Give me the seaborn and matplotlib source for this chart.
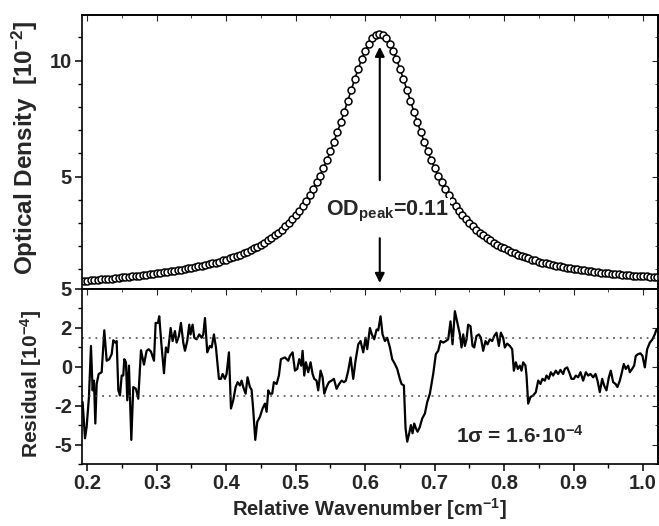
import matplotlib
matplotlib.use("Agg")
import matplotlib.pyplot as plt
import seaborn as sns
from matplotlib.ticker import MultipleLocator, FixedLocator

# ---------------- data ----------------
od_x = [0.190, 0.195, 0.200, 0.205, 0.210, 0.215, 0.220, 0.225, 0.230, 0.235,
        0.240, 0.245, 0.250, 0.255, 0.260, 0.265, 0.270, 0.275, 0.280, 0.285,
        0.290, 0.295, 0.300, 0.305, 0.310, 0.315, 0.320, 0.325, 0.330, 0.335,
        0.340, 0.345, 0.350, 0.355, 0.360, 0.365, 0.370, 0.375, 0.380, 0.385,
        0.390, 0.395, 0.400, 0.405, 0.410, 0.415, 0.420, 0.425, 0.430, 0.435,
        0.440, 0.445, 0.450, 0.455, 0.460, 0.465, 0.470, 0.475, 0.480, 0.485,
        0.490, 0.495, 0.500, 0.505, 0.510, 0.515, 0.520, 0.525, 0.530, 0.535,
        0.540, 0.545, 0.550, 0.555, 0.560, 0.565, 0.570, 0.575, 0.580, 0.585,
        0.590, 0.595, 0.600, 0.605, 0.610, 0.615, 0.620, 0.625, 0.630, 0.635,
        0.640, 0.645, 0.650, 0.655, 0.660, 0.665, 0.670, 0.675, 0.680, 0.685,
        0.690, 0.695, 0.700, 0.705, 0.710, 0.715, 0.720, 0.725, 0.730, 0.735,
        0.740, 0.745, 0.750, 0.755, 0.760, 0.765, 0.770, 0.775, 0.780, 0.785,
        0.790, 0.795, 0.800, 0.805, 0.810, 0.815, 0.820, 0.825, 0.830, 0.835,
        0.840, 0.845, 0.850, 0.855, 0.860, 0.865, 0.870, 0.875, 0.880, 0.885,
        0.890, 0.895, 0.900, 0.905, 0.910, 0.915, 0.920, 0.925, 0.930, 0.935,
        0.940, 0.945, 0.950, 0.955, 0.960, 0.965, 0.970, 0.975, 0.980, 0.985,
        0.990, 0.995, 1.000, 1.005, 1.010, 1.015, 1.020]
od_y = [0.50, 0.51, 0.52, 0.53, 0.55, 0.56, 0.57, 0.58, 0.60, 0.61,
        0.63, 0.64, 0.66, 0.67, 0.69, 0.70, 0.72, 0.74, 0.76, 0.78,
        0.80, 0.82, 0.84, 0.86, 0.88, 0.90, 0.92, 0.94, 0.97, 0.99,
        1.02, 1.05, 1.07, 1.10, 1.13, 1.16, 1.20, 1.23, 1.27, 1.30,
        1.34, 1.39, 1.43, 1.48, 1.53, 1.58, 1.64, 1.70, 1.76, 1.83,
        1.91, 1.98, 2.07, 2.16, 2.26, 2.36, 2.47, 2.59, 2.72, 2.86,
        3.01, 3.17, 3.35, 3.54, 3.74, 3.97, 4.21, 4.47, 4.75, 5.05,
        5.38, 5.73, 6.10, 6.50, 6.92, 7.36, 7.81, 8.28, 8.75, 9.21,
        9.65, 10.07, 10.43, 10.73, 10.96, 11.10, 11.15, 11.10, 10.96, 10.73,
        10.43, 10.07, 9.65, 9.21, 8.75, 8.28, 7.81, 7.36, 6.92, 6.50,
        6.10, 5.73, 5.38, 5.05, 4.75, 4.47, 4.21, 3.97, 3.74, 3.54,
        3.35, 3.17, 3.01, 2.86, 2.72, 2.59, 2.47, 2.36, 2.26, 2.16,
        2.07, 1.98, 1.91, 1.83, 1.76, 1.70, 1.64, 1.58, 1.53, 1.48,
        1.43, 1.39, 1.34, 1.30, 1.27, 1.23, 1.20, 1.16, 1.13, 1.10,
        1.08, 1.05, 1.03, 1.00, 0.98, 0.96, 0.94, 0.92, 0.90, 0.88,
        0.87, 0.85, 0.83, 0.82, 0.80, 0.79, 0.78, 0.76, 0.75, 0.74,
        0.73, 0.72, 0.71, 0.70, 0.69, 0.68, 0.67]

res_x = [0.1933, 0.1967, 0.1991, 0.2024, 0.2053, 0.2077, 0.2096, 0.2116, 0.2135, 0.2164,
         0.2207, 0.2245, 0.2279, 0.2317, 0.2351, 0.2375, 0.2399, 0.2423, 0.2447, 0.2471,
         0.2495, 0.2518, 0.2533, 0.2557, 0.2576, 0.2600, 0.2634, 0.2662, 0.2701, 0.2734,
         0.2773, 0.2816, 0.2854, 0.2883, 0.2917, 0.2960, 0.2984, 0.3017, 0.3036, 0.3065,
         0.3104, 0.3132, 0.3161, 0.3200, 0.3228, 0.3262, 0.3286, 0.3319, 0.3348, 0.3382,
         0.3406, 0.3439, 0.3468, 0.3487, 0.3516, 0.3540, 0.3574, 0.3612, 0.3646, 0.3670,
         0.3694, 0.3727, 0.3765, 0.3790, 0.3823, 0.3852, 0.3895, 0.3924, 0.3948, 0.3981,
         0.4005, 0.4039, 0.4068, 0.4101, 0.4135, 0.4164, 0.4197, 0.4221, 0.4245, 0.4279,
         0.4307, 0.4341, 0.4365, 0.4389, 0.4418, 0.4447, 0.4485, 0.4523, 0.4557, 0.4581,
         0.4605, 0.4629,
         0.4662, 0.4686, 0.4725, 0.4758, 0.4787, 0.4845, 0.4893, 0.4917, 0.4955, 0.4989,
         0.5022, 0.5051, 0.5080, 0.5099, 0.5123, 0.5147, 0.5180, 0.5214, 0.5243, 0.5267,
         0.5300, 0.5324, 0.5358, 0.5387, 0.5411, 0.5444, 0.5478, 0.5516, 0.5550, 0.5588,
         0.5626, 0.5660, 0.5694, 0.5722, 0.5756, 0.5790, 0.5828, 0.5861, 0.5900, 0.5933,
         0.5972, 0.6005, 0.6029, 0.6068, 0.6096, 0.6130, 0.6164, 0.6188, 0.6221, 0.6250,
         0.6284, 0.6317, 0.6356, 0.6389, 0.6428, 0.6461, 0.6499, 0.6523, 0.6557, 0.6581,
         0.6605, 0.6634, 0.6658, 0.6682, 0.6706, 0.6730, 0.6754, 0.6787, 0.6821, 0.6859,
         0.6893, 0.6931, 0.6979, 0.7017, 0.7051, 0.7085, 0.7123, 0.7161, 0.7195, 0.7228,
         0.7257, 0.7291,
         0.7363, 0.7387, 0.7411, 0.7435, 0.7459, 0.7482, 0.7516, 0.7545, 0.7569, 0.7602,
         0.7636, 0.7665, 0.7698, 0.7732, 0.7761, 0.7794, 0.7828, 0.7857, 0.7890, 0.7924,
         0.7953, 0.7986, 0.8010, 0.8044, 0.8082, 0.8116, 0.8140, 0.8168, 0.8197, 0.8226,
         0.8250, 0.8274, 0.8307, 0.8322, 0.8346, 0.8379, 0.8418, 0.8456, 0.8490, 0.8523,
         0.8552, 0.8586, 0.8610, 0.8643, 0.8672, 0.8705, 0.8744, 0.8777, 0.8811, 0.8849,
         0.8873, 0.8907, 0.8936, 0.8969, 0.9003, 0.9032, 0.9065, 0.9099, 0.9137, 0.9176,
         0.9209, 0.9243, 0.9281, 0.9315, 0.9344, 0.9377, 0.9411, 0.9439, 0.9473, 0.9507,
         0.9535, 0.9569, 0.9603, 0.9631, 0.9665, 0.9689, 0.9722, 0.9751, 0.9785, 0.9809,
         0.9842, 0.9871, 0.9895, 0.9929, 0.9962, 0.9991, 1.0025, 1.0058, 1.0097, 1.0135,
         1.0168, 1.0192]
res_y = [-1.80, -3.66, -3.07, -1.54, 1.08, -1.20, -0.70, -2.90, -0.87, -0.36,
         -0.27, 1.88, 0.32, 0.40, 0.66, 1.37, 1.25, 1.33, -1.20, -1.46,
         -0.44, -0.44, 0.40, 0.24, -1.71, 0.07, -3.74, -1.03, -1.12, -1.63,
         0.86, 0.12, 0.83, 0.91, 0.79, 0.32, 2.26, 2.26, 2.60, 1.25,
         -0.32, 1.00, 0.75, 2.00, 1.33, 1.84, 1.25, 1.59, 2.26, 1.25,
         0.83, 1.33, 2.17, 1.67, 2.17, 1.50, 1.42, 1.67, 1.50, 1.67,
         2.51, 0.75, 1.08, 1.00, 1.67, 1.00, -0.61, -0.61, -0.36, -0.61,
         -0.36, 0.75, -2.13, -1.71, -1.03, -0.78, -0.95, -0.70, -1.03, -1.37,
         -0.53, -1.03, -1.17, -2.22, -3.74, -2.81, -2.56, -2.13, -1.88, -2.30,
         -1.20, -1.37,
         -1.37, -0.78, -0.87, -0.44, 0.40, 0.49, 0.32, 0.57, 0.75, -0.19,
         -0.10, 0.40, 0.07, 0.83, -0.44, 0.24, -0.27, 0.24, -0.36, -0.61,
         -0.70, -1.20, -0.19, -0.53, -1.37, -1.03, -0.78, -0.70, -0.61, -1.12,
         -0.87, -0.70, -0.78, -0.70, -0.19, 0.49, -0.61, 0.32, 1.16, 1.33,
         0.75, 1.50, 0.91, 2.00, 1.67, 1.42, 1.92, 1.88, 2.60, 1.67,
         1.33, 1.50, 1.00, 0.40, 0.15, -0.10, -0.61, -0.87, -0.95, -3.15,
         -3.83, -3.40, -2.98, -3.40, -2.90, -3.15, -3.32, -3.07, -2.64, -2.39,
         -1.80, -1.37, -0.36, 0.66, 0.83, 1.33, 1.25, 1.33, 1.42, 2.34,
         1.16, 2.86,
         1.67, 1.00, 1.67, 1.08, 1.42, 2.17, 2.09, 1.08, 1.00, 1.59,
         1.67, 1.50, 0.83, 1.33, 1.16, 1.42, 1.33, 1.59, 1.76, 1.08,
         1.76, 1.50, 1.00, 1.20, 1.08, 0.91, -0.19, 0.24, -0.10, 0.07,
         -0.19, 0.24, 0.07, -0.44, -1.88, -1.54, -1.46, -1.29, -0.70, -0.87,
         -0.61, -0.70, -0.44, -0.61, -0.27, -0.44, -0.19, -0.36, -0.15, -0.36,
         -0.10, -0.02, -0.27, -0.61, -0.61, -0.44, -0.53, -0.27, -0.70, -0.27,
         -0.44, -0.36, -0.53, -0.36, -0.70, -1.29, -0.61, -0.95, -1.20, -0.53,
         -0.19, -0.78, -0.87, -1.03, -0.70, -0.36, 0.15, -0.10, 0.07, -0.27,
         -0.10, 0.07, 0.57, 0.66, 0.70, 0.57, -0.02, 0.91, 1.25, 1.42,
         1.67, 1.92]

x_ticks = [0.2, 0.3, 0.4, 0.5, 0.6, 0.7, 0.8, 0.9, 1.0]
x_ticklabels = ["0.2", "0.3", "0.4", "0.5", "0.6", "0.7", "0.8", "0.9", "1.0"]
od_ticks = [0.16, 5, 10]
od_ticklabels = ["5", "5", "10"]
res_ticks = [2, 0, -2, -4]
res_ticklabels = ["2", "0", "-2", "-5"]
sigma_level = 1.5

# ---------------- style ----------------
sns.set_style("ticks")
plt.rcParams['font.family'] = ['Liberation Sans', 'DejaVu Sans']
plt.rcParams['font.weight'] = 'bold'
plt.rcParams['axes.labelweight'] = 'bold'
plt.rcParams['mathtext.fontset'] = 'custom'
plt.rcParams['mathtext.rm'] = 'Liberation Sans:bold'
plt.rcParams['mathtext.bf'] = 'Liberation Sans:bold'
plt.rcParams['mathtext.it'] = 'Liberation Sans:bold:italic'
plt.rcParams['axes.edgecolor'] = 'black'
plt.rcParams['axes.linewidth'] = 1.2

TICK_FS = 14.5

fig = plt.figure(figsize=(6.59, 5.26), dpi=100)
ax1 = fig.add_axes([0.124, 0.4506, 0.874, 0.5209])
ax2 = fig.add_axes([0.124, 0.117, 0.874, 0.3336])

XLIM = (0.192, 1.021)

# ---- top panel ----
sns.lineplot(x=od_x, y=od_y, ax=ax1, color='black', lw=1.2, marker='o',
             markersize=5.0, markerfacecolor='white', markeredgecolor='black',
             markeredgewidth=1.1, sort=False, estimator=None)
ax1.set_xlim(*XLIM)
ax1.set_ylim(0.16, 11.97)
ax1.set_yticks(od_ticks)
ax1.set_yticklabels(od_ticklabels, fontsize=TICK_FS, fontweight='bold')
ax1.yaxis.set_minor_locator(FixedLocator([1, 2, 3, 4, 6, 7, 8, 9, 11]))
ax1.set_xticks(x_ticks)
ax1.xaxis.set_minor_locator(MultipleLocator(0.05))
ax1.tick_params(axis='x', which='both', labelbottom=False, direction='out')
ax1.tick_params(axis='both', which='major', length=5, width=1.1, color='black')
ax1.tick_params(axis='both', which='minor', length=3, width=1.0, color='black')
ax1.tick_params(axis='y', which='both', direction='out', pad=2)
ax1.set_ylabel("Optical Density  [10$^{\\mathbf{-2}}$]", fontsize=17.5, fontweight='bold')
ax1.yaxis.set_label_coords(-0.072, 0.515)

ax1.annotate("", xy=(0.621, 10.6), xytext=(0.621, 4.85),
             arrowprops=dict(arrowstyle='-|>', color='black', lw=1.5,
                             mutation_scale=14, shrinkA=0, shrinkB=0))
ax1.annotate("", xy=(0.621, 0.42), xytext=(0.621, 2.35),
             arrowprops=dict(arrowstyle='-|>', color='black', lw=1.5,
                             mutation_scale=14, shrinkA=0, shrinkB=0))
ax1.text(0.632, 3.5, "OD$_{\\mathbf{peak}}$=0.11", fontsize=15.5, fontweight='bold',
         ha='center', va='center',
         bbox=dict(facecolor='white', edgecolor='none', pad=1))

# top/right inward ticks for top panel
sec1x = ax1.secondary_xaxis('top')
sec1x.set_xticks(x_ticks)
sec1x.xaxis.set_minor_locator(MultipleLocator(0.05))
sec1x.tick_params(which='both', direction='in', labeltop=False)
sec1x.tick_params(which='major', length=4)
sec1x.tick_params(which='minor', length=2.5)
sec1y = ax1.secondary_yaxis('right')
sec1y.set_yticks([5, 10])
sec1y.yaxis.set_minor_locator(FixedLocator([1, 2, 3, 4, 6, 7, 8, 9, 11]))
sec1y.tick_params(which='both', direction='in', labelright=False)
sec1y.tick_params(which='major', length=4)
sec1y.tick_params(which='minor', length=2.5)

# ---- bottom panel ----
sns.lineplot(x=res_x, y=res_y, ax=ax2, color='black', lw=1.6, sort=False,
             estimator=None)
ax2.axhline(sigma_level, color='#444444', lw=1.1, ls=(0, (1.2, 3.2)))
ax2.axhline(-sigma_level, color='#444444', lw=1.1, ls=(0, (1.2, 3.2)))
ax2.set_xlim(*XLIM)
ax2.set_ylim(-5, 4)
ax2.set_yticks(res_ticks)
ax2.set_yticklabels(res_ticklabels, fontsize=TICK_FS, fontweight='bold')
ax2.yaxis.set_minor_locator(FixedLocator([3, 1, -1, -3, -5]))
ax2.set_xticks(x_ticks)
ax2.set_xticklabels(x_ticklabels, fontsize=TICK_FS, fontweight='bold')
ax2.xaxis.set_minor_locator(MultipleLocator(0.05))
ax2.tick_params(axis='both', which='both', direction='out', color='black')
ax2.tick_params(axis='both', which='major', length=5, width=1.1)
ax2.tick_params(axis='both', which='minor', length=3, width=1.0)
ax2.tick_params(axis='y', which='both', pad=2)
ax2.tick_params(axis='x', which='both', pad=2)
ax2.set_ylabel("Residual [10$^{\\mathbf{-4}}$]", fontsize=15, fontweight='bold')
ax2.yaxis.set_label_coords(-0.066, 0.46)
ax2.set_xlabel("Relative Wavenumber [cm$^{\\mathbf{-1}}$]", fontsize=14.5,
               fontweight='bold', labelpad=2)
ax2.text(0.8226, -3.55, "1\u03c3 = 1.6\u00b710$^{\\mathbf{-4}}$", fontsize=15,
         fontweight='bold', ha='center', va='center')

sec2x = ax2.secondary_xaxis('top')
sec2x.set_xticks(x_ticks)
sec2x.xaxis.set_minor_locator(MultipleLocator(0.05))
sec2x.tick_params(which='both', direction='in', labeltop=False)
sec2x.tick_params(which='major', length=4)
sec2x.tick_params(which='minor', length=2.5)
sec2y = ax2.secondary_yaxis('right')
sec2y.set_yticks(res_ticks)
sec2y.yaxis.set_minor_locator(FixedLocator([3, 1, -1, -3, -5]))
sec2y.tick_params(which='both', direction='in', labelright=False)
sec2y.tick_params(which='major', length=4)
sec2y.tick_params(which='minor', length=2.5)

for ax in (ax1, ax2):
    for s in ax.spines.values():
        s.set_visible(True)
        s.set_color('black')
        s.set_linewidth(1.2)

fig.savefig("out.png", dpi=100)
